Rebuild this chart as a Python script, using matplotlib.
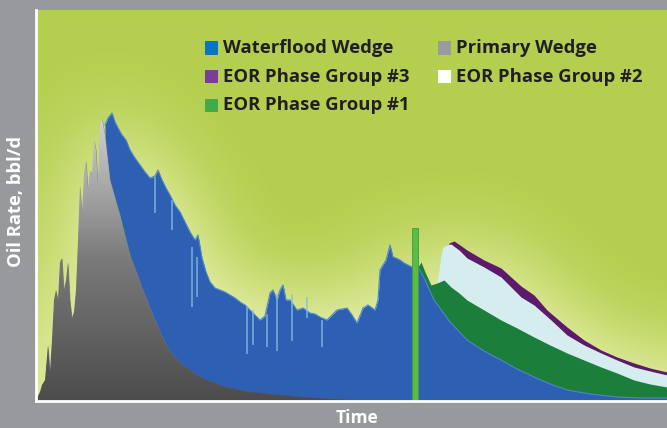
import matplotlib.pyplot as plt
import numpy as np
from matplotlib.patches import Rectangle, PathPatch
from matplotlib.colors import LinearSegmentedColormap, to_rgb

# ============================================================
# Data (time index, oil rate)
# ============================================================
primary_t = [1, 4, 6, 9, 12, 14, 16, 18, 20, 22, 24, 26, 28, 30, 32, 34, 36, 38, 40,
             42, 44, 46, 48, 50, 52, 54, 56, 58, 60, 62, 64, 66, 68, 69, 74, 84, 94,
             107, 119, 131, 144, 164, 189, 214, 264, 314, 364]
primary_rate = [3, 9, 16, 21, 56, 29, 61, 101, 111, 101, 139, 143, 111, 121, 139, 101, 83,
                89, 111, 161, 216, 186, 226, 241, 211, 231, 226, 261, 251, 216, 276, 283,
                271, 266, 221, 186, 146, 111, 81, 54, 38, 24, 14, 9, 4, 1, 0]

waterflood_t = [69, 72, 76, 79, 82, 86, 90, 94, 99, 104, 109, 114, 119, 122, 126, 130, 134,
                139, 144, 149, 154, 159, 162, 166, 170, 174, 179, 184, 189, 194, 199, 204,
                209, 214, 219, 224, 229, 234, 237, 241, 244, 247, 250, 254, 261, 267, 274,
                279, 284, 291, 296, 301, 306, 311, 316, 321, 327, 332, 339, 342, 344, 347,
                350, 354, 357, 360, 364, 368, 372, 376, 382, 389, 398, 414, 431, 448, 465,
                481, 498, 514, 531, 554, 581, 604, 631]
waterflood_rate = [276, 283, 288, 279, 273, 266, 261, 251, 243, 236, 229, 223, 225, 231, 221,
                   213, 206, 196, 189, 179, 169, 161, 166, 143, 129, 119, 113, 111, 109, 106,
                   103, 99, 96, 91, 86, 81, 85, 108, 111, 101, 111, 116, 101, 101, 91, 93, 88,
                   87, 84, 81, 86, 91, 92, 93, 86, 78, 93, 96, 91, 101, 131, 136, 141, 156,
                   144, 143, 141, 138, 136, 134, 134, 121, 101, 79, 61, 50, 41, 32, 24, 17,
                   11, 7, 4, 3, 3]

# light streaks inside the waterflood wedge (well tests / shut-ins)
streak_t = [119, 136, 156, 161, 211, 217, 231, 241, 256, 271, 286]
streak_lo = [188, 171, 94, 104, 47, 56, 54, 50, 60, 83, 54]
streak_hi = [224, 201, 154, 144, 94, 91, 87, 107, 107, 104, 81]

eor1_t = [382, 385, 389, 395, 401, 408, 415, 423, 431, 448, 465, 481, 498, 514, 531, 548,
          565, 581, 598, 614, 631]
eor1_rate = [134, 139, 129, 116, 118, 121, 114, 108, 101, 91, 81, 73, 64, 56, 48, 41, 34,
             28, 21, 17, 14]

eor2_t = [401, 403, 405, 407, 411, 415, 423, 431, 448, 465, 485, 498, 515, 531, 548, 565,
          581, 598, 614, 631]
eor2_rate = [118, 131, 146, 154, 156, 157, 151, 143, 134, 124, 104, 96, 81, 66, 56, 48, 41,
             34, 30, 26]

eor3_t = [413, 418, 424, 431, 448, 465, 485, 498, 511, 531, 548, 565, 581, 598, 614, 631]
eor3_rate = [158, 160, 156, 151, 141, 133, 115, 106, 91, 74, 61, 51, 44, 38, 33, 29]

eor_start_t = 379
eor_start_rate = 173

legend_labels = [("Waterflood Wedge", "#0a74c2"), ("Primary Wedge", "#9b9b9d"),
                 ("EOR Phase Group #3", "#7b3d96"), ("EOR Phase Group #2", "#ffffff"),
                 ("EOR Phase Group #1", "#3fab49")]

XMAX, YMAX = 631, 391

# ============================================================
# Figure
# ============================================================
W, H = 667, 428
fig = plt.figure(figsize=(W / 100, H / 100), dpi=100, facecolor="#98999d")
ax = fig.add_axes([36 / W, 27 / H, 1 - 36 / W, 391 / H])
ax.set_facecolor("#b4cf4f")


# ------------------------------------------------------------
# soft glow background: blurred silhouette of the profile
# ------------------------------------------------------------
def box_blur(a, w, axis):
    pad = [(0, 0), (0, 0)]
    pad[axis] = (w, w)
    p = np.pad(a, pad, mode="edge")
    c = np.cumsum(p, axis=axis)
    c = np.insert(c, 0, 0, axis=axis)
    n = a.shape[axis]
    lo = np.take(c, np.arange(w - w // 2, w - w // 2 + n), axis=axis)
    hi = np.take(c, np.arange(w - w // 2 + w, w - w // 2 + w + n), axis=axis)
    return (hi - lo) / w


gx = np.arange(XMAX) + 0.5
gy = np.arange(YMAX) + 0.5
env = np.zeros_like(gx)
for t, r in [(primary_t, primary_rate), (waterflood_t, waterflood_rate),
             (eor3_t, eor3_rate)]:
    env = np.maximum(env, np.interp(gx, t, r, left=0, right=0))
mask = (gy[:, None] < env[None, :]).astype(float)
for _ in range(3):
    mask = box_blur(mask, 76, 0)
    mask = box_blur(mask, 76, 1)
base = np.array(to_rgb("#b4cf4f"))
light = np.array(to_rgb("#eaf1b0"))
strength = np.clip(mask * 1.1, 0, 1) ** 0.85
bg = base + (light - base) * strength[..., None]
ax.imshow(bg, origin="lower", extent=[0, XMAX, 0, YMAX], aspect="auto", zorder=0.5,
          interpolation="bilinear")

# stacked wedges, drawn back to front
ax.fill_between(eor3_t, 0, eor3_rate, color="#5d1a6b", lw=0, zorder=2)
ax.fill_between(eor2_t, 0, eor2_rate, color="#d6edf0", lw=0, zorder=3)
ax.fill_between(eor1_t, 0, eor1_rate, color="#1b7e3a", lw=0, zorder=4)
ax.fill_between(waterflood_t, 0, waterflood_rate, color="#2d5fb3", lw=0, zorder=5)
ax.plot(waterflood_t, waterflood_rate, color="#4f86cf", lw=0.8, zorder=5.5)
ax.vlines(streak_t, streak_lo, streak_hi, color="#86bde6", lw=1.1, alpha=0.85,
          zorder=5.6)

prim = ax.fill_between(primary_t, 0, primary_rate, color="#808080", lw=0, zorder=6)
cmap = LinearSegmentedColormap.from_list("gr", ["#4c4c4c", "#7a7a7a", "#d2d2d2"])
grad = np.linspace(0, 1, 256).reshape(-1, 1)
im = ax.imshow(grad, cmap=cmap, origin="lower", aspect="auto",
               extent=[0, XMAX, 0, max(primary_rate)], zorder=6.5)
im.set_clip_path(PathPatch(prim.get_paths()[0], transform=ax.transData))

# EOR start marker
ax.bar(eor_start_t, eor_start_rate, width=6, color="#5bbb47", edgecolor="#3f9e3c",
       lw=0.6, zorder=7)

ax.set_xlim(0, XMAX)
ax.set_ylim(0, YMAX)
for s in ["top", "right"]:
    ax.spines[s].set_visible(False)
for s in ["left", "bottom"]:
    ax.spines[s].set_color("white")
    ax.spines[s].set_linewidth(2)
    ax.spines[s].set_zorder(10)
ax.set_xticks([])
ax.set_yticks([])

# legend drawn in figure pixels
font = dict(family=["Open Sans", "DejaVu Sans"], fontweight="bold", fontsize=13.3,
            color="#231f20")
cols = [205, 438]
rows = [48, 76.5, 105.5]
for i, (lab, col) in enumerate(legend_labels):
    cx = cols[i % 2]
    cy = rows[i // 2]
    fig.patches.append(Rectangle((cx / W, 1 - (cy + 6.5) / H), 13 / W, 13 / H,
                                 transform=fig.transFigure, facecolor=col,
                                 edgecolor="none", zorder=20))
    fig.text((cx + 18) / W, 1 - cy / H, lab, ha="left", va="center", **font)

lab_font = dict(family=["Open Sans", "DejaVu Sans"], fontweight="bold", color="white")
fig.text(357 / W, 1 - 418 / H, "Time", ha="center", va="center", fontsize=12.5,
         **lab_font)
fig.text(16 / W, 1 - 201 / H, "Oil Rate, bbl/d", ha="center", va="center",
         rotation=90, fontsize=13.2, **lab_font)

fig.savefig("out.png", dpi=100, facecolor=fig.get_facecolor())
